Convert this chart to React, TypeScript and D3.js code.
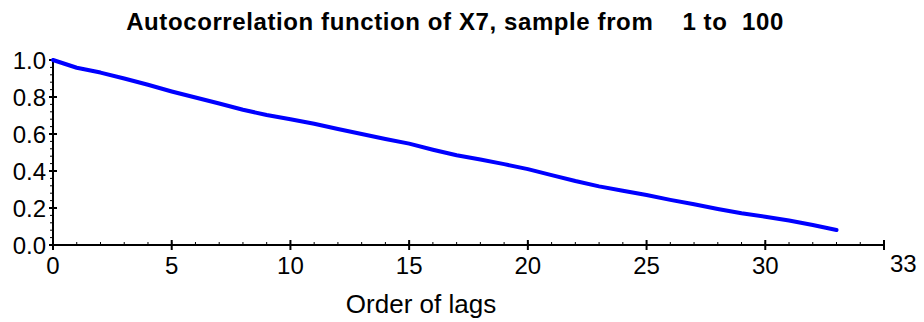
import React, { useEffect, useRef } from 'react';
import * as d3 from 'd3';

// autocorrelation values for lags 0..33
const lags: number[] = d3.range(0, 34);
const acf: number[] = [
  1.0, 0.958, 0.932, 0.9, 0.866, 0.83, 0.797, 0.765, 0.731, 0.703,
  0.68, 0.655, 0.627, 0.6, 0.573, 0.548, 0.515, 0.485, 0.462, 0.437,
  0.41, 0.378, 0.346, 0.317, 0.293, 0.27, 0.244, 0.22, 0.195, 0.172,
  0.153, 0.132, 0.108, 0.081,
];
const xTicks: number[] = [0, 5, 10, 15, 20, 25, 30];
const yTicks: number[] = [0, 0.2, 0.4, 0.6, 0.8, 1.0];
const xEndLabel = '33';
const title = 'Autocorrelation function of X7, sample from    1 to  100';
const xLabel = 'Order of lags';

const W = 924;
const H = 322;
const FONT = '"Liberation Sans", Arial, sans-serif';

const App = () => {
  const ref = useRef<SVGSVGElement>(null);

  useEffect(() => {
    const svg = d3.select(ref.current);
    svg.selectAll('*').remove();

    const x = d3.scaleLinear().domain([0, 35]).range([53, 884]);
    const y = d3.scaleLinear().domain([0, 1]).range([245, 60]);

    // title
    svg.append('text')
      .attr('x', 455)
      .attr('y', 29.5)
      .attr('text-anchor', 'middle')
      .attr('font-family', FONT)
      .attr('font-weight', 'bold')
      .attr('font-size', 24)
      .attr('letter-spacing', 0.6)
      .style('white-space', 'pre')
      .text(title);

    const g = svg.append('g').attr('stroke', '#000');

    // y axis
    g.append('line')
      .attr('x1', x(0)).attr('x2', x(0))
      .attr('y1', y(1) - 1).attr('y2', y(0))
      .attr('stroke-width', 2);
    d3.range(0, 1.0001, 0.04).forEach((v) => {
      g.append('line')
        .attr('x1', x(0) - 3).attr('x2', x(0))
        .attr('y1', y(v)).attr('y2', y(v))
        .attr('stroke-width', 1);
    });
    yTicks.forEach((v) => {
      g.append('line')
        .attr('x1', x(0) - 4).attr('x2', x(0) + 4)
        .attr('y1', y(v)).attr('y2', y(v))
        .attr('stroke-width', 2);
      svg.append('text')
        .attr('x', 46)
        .attr('y', y(v) + 9)
        .attr('text-anchor', 'end')
        .attr('font-family', FONT)
        .attr('font-size', 24)
        .text(v.toFixed(1));
    });

    // x axis
    g.append('line')
      .attr('x1', x(0)).attr('x2', x(35))
      .attr('y1', y(0)).attr('y2', y(0))
      .attr('stroke-width', 2);
    d3.range(0, 36).forEach((v) => {
      g.append('line')
        .attr('x1', x(v)).attr('x2', x(v))
        .attr('y1', y(0) - 3).attr('y2', y(0))
        .attr('stroke-width', 1);
    });
    [...xTicks, 35].forEach((v) => {
      g.append('line')
        .attr('x1', x(v)).attr('x2', x(v))
        .attr('y1', y(0) - 5).attr('y2', y(0) + 5)
        .attr('stroke-width', 2);
    });
    xTicks.forEach((v) => {
      svg.append('text')
        .attr('x', x(v))
        .attr('y', 274)
        .attr('text-anchor', 'middle')
        .attr('font-family', FONT)
        .attr('font-size', 24)
        .text(String(v));
    });
    svg.append('text')
      .attr('x', x(35) + 6)
      .attr('y', 272)
      .attr('text-anchor', 'start')
      .attr('font-family', FONT)
      .attr('font-size', 24)
      .text(xEndLabel);

    svg.append('text')
      .attr('x', 421)
      .attr('y', 313)
      .attr('text-anchor', 'middle')
      .attr('font-family', FONT)
      .attr('font-size', 26)
      .text(xLabel);

    // acf line
    const line = d3.line<number>()
      .x((d, i) => x(lags[i]))
      .y((d) => y(d));
    svg.append('path')
      .datum(acf)
      .attr('d', line)
      .attr('fill', 'none')
      .attr('stroke', '#0000ff')
      .attr('stroke-width', 4)
      .attr('stroke-linecap', 'round')
      .attr('stroke-linejoin', 'round');
  }, []);

  return (
    <div style={{ position: 'absolute', left: 0, top: 0 }}>
      <svg ref={ref} width={W} height={H} style={{ display: 'block', background: '#fff' }} />
    </div>
  );
};

export default App;
